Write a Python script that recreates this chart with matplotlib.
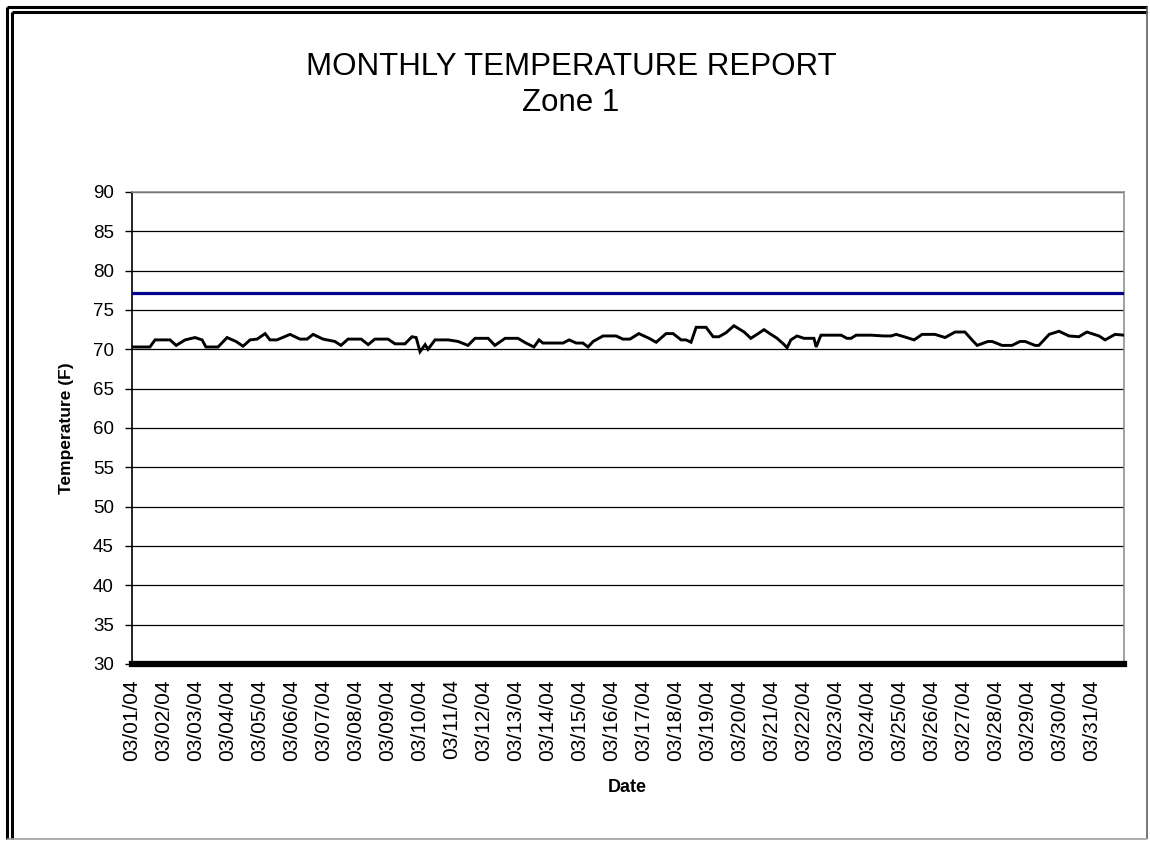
import matplotlib
matplotlib.use("Agg")
import matplotlib.pyplot as plt
import matplotlib.dates as mdates
from matplotlib.lines import Line2D
from datetime import datetime, timedelta

# ---- data ----
start_date = datetime(2004, 3, 1)
end_date = datetime(2004, 4, 1)
sample_day = [0.0, 0.56, 0.72, 1.19, 1.38, 1.66, 1.97, 2.19, 2.31, 2.69, 2.97, 3.25, 3.47,
              3.69, 3.91, 4.16, 4.31, 4.53, 4.94, 5.25, 5.47, 5.66, 5.97, 6.34, 6.53, 6.75,
              7.16, 7.38, 7.59, 8.0, 8.22, 8.53, 8.75, 8.88, 9.0, 9.16, 9.25, 9.47, 9.88,
              10.19, 10.5, 10.72, 11.13, 11.34, 11.66, 12.06, 12.31, 12.56, 12.72, 12.84,
              13.47, 13.66, 13.88, 14.09, 14.25, 14.41, 14.72, 15.13, 15.34, 15.56, 15.84,
              16.16, 16.38, 16.69, 16.91, 17.16, 17.31, 17.47, 17.63, 17.94, 18.16, 18.34,
              18.56, 18.81, 19.13, 19.34, 19.53, 19.75, 19.97, 20.16, 20.38, 20.47, 20.59,
              20.78, 21.0, 21.31, 21.38, 21.53, 22.16, 22.34, 22.47, 22.63, 23.09, 23.5,
              23.72, 23.88, 24.13, 24.44, 24.69, 25.09, 25.41, 25.72, 26.03, 26.25, 26.41,
              26.75, 26.88, 27.19, 27.5, 27.75, 27.91, 28.22, 28.34, 28.66, 28.97, 29.28,
              29.59, 29.84, 30.22, 30.41, 30.72, 31.0]
temperature = [70.3, 70.3, 71.2, 71.2, 70.5, 71.2, 71.5, 71.2, 70.3, 70.3, 71.5, 71.0, 70.4,
               71.2, 71.3, 72.0, 71.2, 71.2, 71.9, 71.3, 71.3, 71.9, 71.3, 71.0, 70.5, 71.3,
               71.3, 70.6, 71.3, 71.3, 70.7, 70.7, 71.6, 71.5, 69.7, 70.6, 70.0, 71.2, 71.2,
               71.0, 70.5, 71.4, 71.4, 70.5, 71.4, 71.4, 70.8, 70.3, 71.2, 70.8,
               70.8, 71.2, 70.8, 70.8, 70.3, 71.0, 71.7, 71.7, 71.3, 71.3, 72.0,
               71.4, 70.9, 72.0, 72.0, 71.2, 71.2, 70.9, 72.8, 72.8, 71.6, 71.6,
               72.1, 73.0, 72.2, 71.4, 71.9, 72.5, 71.9, 71.4, 70.6, 70.2, 71.2,
               71.7, 71.4, 71.4, 70.3, 71.8, 71.8, 71.4, 71.4, 71.8, 71.8, 71.7,
               71.7, 71.9, 71.6, 71.2, 71.9, 71.9, 71.5, 72.2, 72.2, 71.2, 70.5,
               71.0, 71.0, 70.5, 70.5, 71.0, 71.0, 70.5, 70.5, 71.9, 72.3, 71.7,
               71.6, 72.2, 71.7, 71.2, 71.9, 71.8]
upper_limit = 77.2
lower_limit = 30.0
y_ticks = [30, 35, 40, 45, 50, 55, 60, 65, 70, 75, 80, 85, 90]
title_line1 = "MONTHLY TEMPERATURE REPORT"
title_line2 = "Zone 1"
x_label = "Date"
y_label = "Temperature (F)"

W, H = 1150, 843
FONT = "Liberation Sans"
plt.rcParams["font.family"] = [FONT, "DejaVu Sans"]

fig = plt.figure(figsize=(W / 100, H / 100), dpi=100)
fig.patch.set_facecolor("white")

def fx(px):
    return px / W

def fy(py):
    return 1 - py / H

ax = fig.add_axes([fx(132), fy(664), fx(1124) - fx(132), fy(192) - fy(664)])

times = [start_date + timedelta(days=d) for d in sample_day]
ax.plot(times, temperature, color="black", lw=2.1, zorder=4, solid_joinstyle="miter")
ax.axhline(upper_limit, color="#00008B", lw=2.3, zorder=3)
ax.axhline(lower_limit, color="black", lw=4.5, zorder=5, clip_on=False)

ax.set_xlim(start_date, end_date)
ax.set_ylim(30, 90)
ax.set_yticks(y_ticks)
ax.yaxis.grid(True, color="black", lw=0.9)
ax.set_axisbelow(True)

tick_days = [start_date + timedelta(days=i) for i in range(31)]
ax.set_xticks(tick_days)
ax.xaxis.set_major_formatter(mdates.DateFormatter("%m/%d/%y"))
for lbl in ax.get_xticklabels():
    lbl.set_rotation(90)
ax.tick_params(axis="x", length=0, pad=11, labelsize=15)
ax.tick_params(axis="y", length=5, width=1, pad=8, labelsize=13.5, direction="out")

for side in ["top", "right"]:
    ax.spines[side].set_color("#909090")
    ax.spines[side].set_linewidth(1.2)
ax.spines["left"].set_color("black")
ax.spines["left"].set_linewidth(1.2)
ax.spines["bottom"].set_color("black")

fig.text(fx(571), fy(67), title_line1, ha="center", va="center", fontsize=22.5)
fig.text(fx(571), fy(103), title_line2, ha="center", va="center", fontsize=22.5)
fig.text(fx(627), fy(787), x_label, ha="center", va="center", fontsize=13, fontweight="bold")
fig.text(fx(66), fy(428), y_label, ha="center", va="center", fontsize=12.5,
         fontweight="bold", rotation=90)

# double frame around the chart
frame_lines = [
    ((7, 7), (7, 839), "black", 2.2),
    ((7, 7), (1147, 7), "black", 2.2),
    ((12, 12), (12, 839), "black", 2.2),
    ((12, 12), (1147, 12), "black", 2.2),
    ((1147, 7), (1147, 839), "#606060", 1.2),
    ((7, 839), (1147, 839), "#a0a0a0", 1.2),
]
for (x0, y0), (x1, y1), c, lw in frame_lines:
    fig.add_artist(Line2D([fx(x0), fx(x1)], [fy(y0), fy(y1)], color=c, lw=lw,
                          transform=fig.transFigure, solid_capstyle="butt"))

fig.savefig("out.png", dpi=100)
